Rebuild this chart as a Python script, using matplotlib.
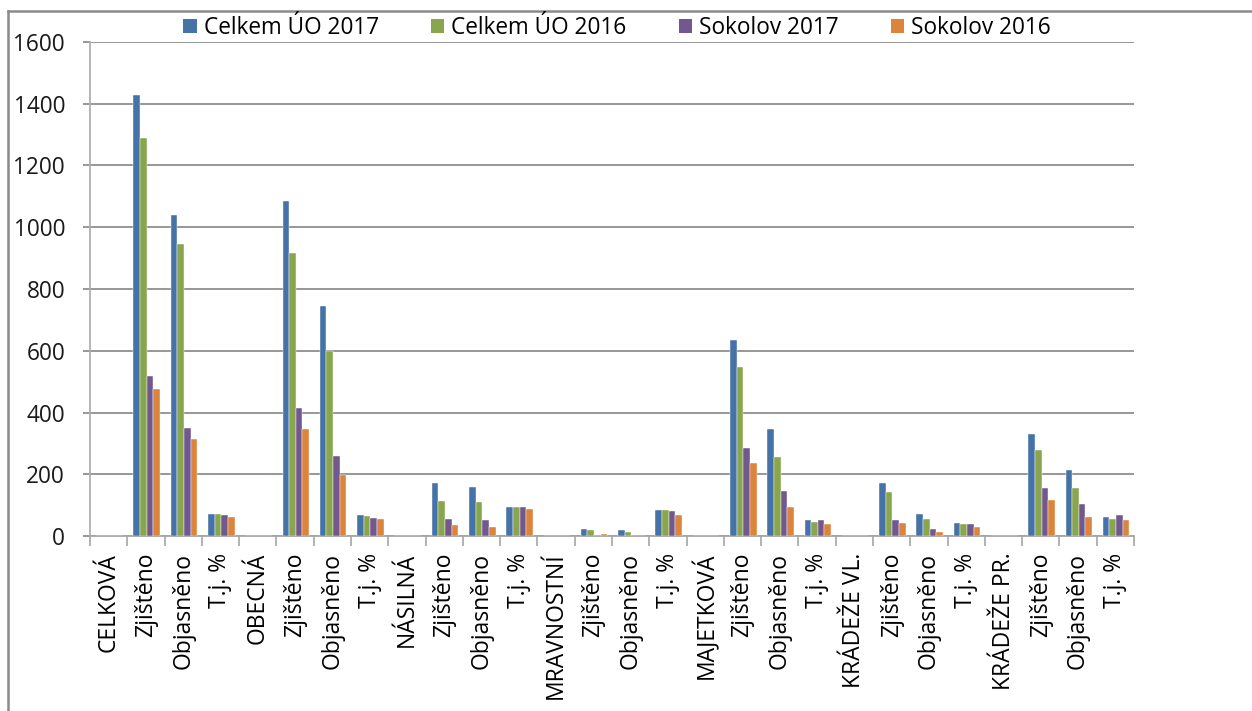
import matplotlib
matplotlib.use("Agg")
import matplotlib.pyplot as plt
from matplotlib.lines import Line2D
from matplotlib.patches import Patch
import numpy as np

plt.rcParams['font.family'] = ['Open Sans', 'DejaVu Sans']

categories = ["CELKOVÁ", "Zjištěno", "Objasněno", "T.j. %",
              "OBECNÁ", "Zjištěno", "Objasněno", "T.j. %",
              "NÁSILNÁ", "Zjištěno", "Objasněno", "T.j. %",
              "MRAVNOSTNÍ", "Zjištěno", "Objasněno", "T.j. %",
              "MAJETKOVÁ", "Zjištěno", "Objasněno", "T.j. %",
              "KRÁDEŽE VL.", "Zjištěno", "Objasněno", "T.j. %",
              "KRÁDEŽE PR.", "Zjištěno", "Objasněno", "T.j. %"]

series_names = ["Celkem ÚO 2017", "Celkem ÚO 2016", "Sokolov 2017", "Sokolov 2016"]
celkem_2017 = [0, 1427, 1040, 72, 0, 1086, 745, 67, 0, 171, 159, 93, 0, 22, 18, 84,
               0, 634, 346, 51, 0, 171, 71, 42, 0, 330, 213, 63]
celkem_2016 = [0, 1290, 945, 72, 0, 916, 598, 64, 0, 112, 109, 93, 0, 18, 14, 84,
               0, 546, 255, 46, 0, 142, 55, 38, 0, 280, 155, 55]
sokolov_2017 = [0, 517, 350, 67, 0, 413, 259, 59, 0, 55, 51, 93, 0, 1, 0, 80,
                0, 284, 147, 51, 0, 51, 22, 38, 0, 155, 105, 67]
sokolov_2016 = [0, 476, 314, 63, 0, 347, 199, 55, 0, 35, 30, 89, 0, 5, 0, 67,
                0, 235, 93, 38, 0, 42, 14, 30, 0, 118, 63, 51]

colors = ["#4572A7", "#89A54E", "#71588F", "#DB843D"]
y_ticks = [0, 200, 400, 600, 800, 1000, 1200, 1400, 1600]

W, H = 1252, 711
fig = plt.figure(figsize=(W / 100, H / 100), dpi=100)
ax = fig.add_axes([90 / W, 1 - 536 / H, (1134 - 90) / W, (536 - 42) / H])

x = np.arange(len(categories))
bw = 0.178
all_series = [celkem_2017, celkem_2016, sokolov_2017, sokolov_2016]
for i, (vals, c, name) in enumerate(zip(all_series, colors, series_names)):
    ax.bar(x + (i - 1.5) * bw + 0.02, vals, width=bw, color=c, label=name,
           edgecolor='white', linewidth=0.3, zorder=3)

ax.set_xlim(-0.5, len(categories) - 0.5)
ax.set_ylim(0, 1600)
ax.set_yticks(y_ticks)
ax.set_yticklabels([str(v) for v in y_ticks])
ax.yaxis.grid(True, color='#8f8f8f', linewidth=1.3, zorder=0)
ax.set_axisbelow(True)

ax.set_xticks(x)
ax.set_xticklabels(categories, rotation=90, fontsize=16.5)
ax.set_xticks(np.arange(-0.5, len(categories), 1), minor=True)
ax.tick_params(axis='x', which='major', length=0, pad=12, colors='black')
ax.tick_params(axis='x', which='minor', length=7, width=1.2, color='#a6a6a6', direction='out')
ax.tick_params(axis='y', which='major', length=5, width=1.3, color='#8f8f8f', pad=13, labelsize=16.3)
for lbl in ax.get_yticklabels():
    lbl.set_color('#1a1a1a')

for s in ['top', 'right']:
    ax.spines[s].set_visible(False)
ax.spines['left'].set_color('#b0b0b0')
ax.spines['left'].set_linewidth(1.3)
ax.spines['bottom'].set_color('#a6a6a6')
ax.spines['bottom'].set_linewidth(1.3)

handles = [Patch(facecolor=c, edgecolor='none') for c in colors]
fig.legend(handles, series_names, loc='center', bbox_to_anchor=(617 / W, 1 - 28 / H),
           ncol=4, frameon=False, fontsize=16.3, handlelength=0.6, handleheight=0.6,
           handletextpad=0.3, columnspacing=2.3)

# chart area border (top & left visible)
fig.add_artist(Line2D([8 / W, 8 / W], [0, 1 - 11 / H], transform=fig.transFigure,
                      color='#8a8a8a', linewidth=1.8))
fig.add_artist(Line2D([8 / W, 1], [1 - 11 / H, 1 - 11 / H], transform=fig.transFigure,
                      color='#8a8a8a', linewidth=1.8))

fig.savefig("out.png", dpi=100)
